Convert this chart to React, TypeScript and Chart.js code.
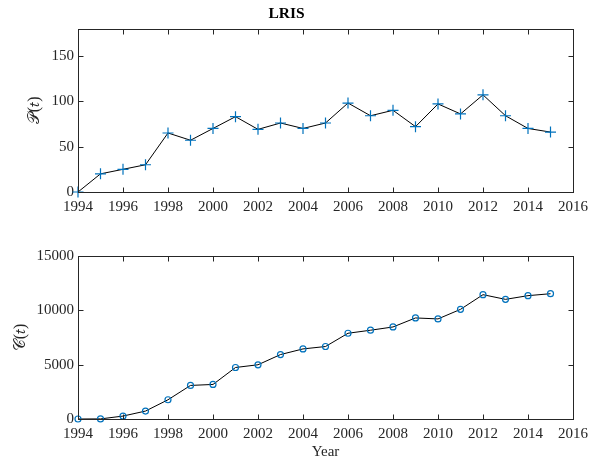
import React, { useEffect, useRef } from "react";
import { Chart, registerables } from "chart.js";

Chart.register(...registerables);

const years = [1994, 1995, 1996, 1997, 1998, 1999, 2000, 2001, 2002, 2003, 2004, 2005, 2006, 2007, 2008, 2009, 2010, 2011, 2012, 2013, 2014, 2015];
const publications = [0, 20, 25, 30, 65, 57, 70, 83, 69, 76, 70, 76, 98, 84, 90, 72, 97, 86, 107, 84, 70, 66];
const citations = [0, 10, 270, 730, 1770, 3090, 3180, 4740, 4990, 5930, 6450, 6670, 7890, 8170, 8470, 9300, 9210, 10090, 11440, 11010, 11350, 11530];
const xTicks = [1994, 1996, 1998, 2000, 2002, 2004, 2006, 2008, 2010, 2012, 2014, 2016];
const topYTicks = [0, 50, 100, 150];
const bottomYTicks = [0, 5000, 10000, 15000];

const AXIS = "#262626";
const BLUE = "#0072BD";
const SERIF = "'Liberation Serif', 'Times New Roman', serif";

const boxPlugin = {
  id: "matlabBox",
  afterDraw(chart: any) {
    const { ctx, chartArea: a, scales } = chart;
    ctx.save();
    ctx.strokeStyle = AXIS;
    ctx.lineWidth = 1;
    const L = Math.round(a.left) + 0.5, R = Math.round(a.right) + 0.5;
    const T = Math.round(a.top) + 0.5, B = Math.round(a.bottom) + 0.5;
    ctx.strokeRect(L, T, R - L, B - T);
    const len = 5;
    ctx.beginPath();
    for (const t of scales.x.ticks) {
      const px = Math.round(scales.x.getPixelForValue(t.value)) + 0.5;
      ctx.moveTo(px, B); ctx.lineTo(px, B - len);
      ctx.moveTo(px, T); ctx.lineTo(px, T + len);
    }
    for (const t of scales.y.ticks) {
      const py = Math.round(scales.y.getPixelForValue(t.value)) + 0.5;
      ctx.moveTo(L, py); ctx.lineTo(L + len, py);
      ctx.moveTo(R, py); ctx.lineTo(R - len, py);
    }
    ctx.stroke();
    ctx.restore();
  },
};

function makeOptions(opts: {
  yMax: number;
  yTicks: number[];
  yLabel: string;
  yLabelPad: number;
  title?: string;
  xLabel?: string;
  height: number;
  areaBottom: number;
  padTop: number;
}) {
  const tickFont = { family: SERIF, size: 15 };
  return {
    responsive: false,
    animation: false,
    layout: { padding: { top: opts.padTop, right: 24, left: 0, bottom: 0 } },
    plugins: {
      legend: { display: false },
      tooltip: { enabled: false },
      title: opts.title
        ? {
            display: true,
            text: opts.title,
            color: "#000",
            font: { family: SERIF, size: 15.5, weight: "bold" },
            padding: { top: 5, bottom: 5 },
          }
        : { display: false },
    },
    scales: {
      x: {
        type: "linear",
        min: 1994,
        max: 2016,
        grid: { display: false, drawTicks: false },
        border: { display: false },
        afterBuildTicks: (s: any) => {
          s.ticks = xTicks.map((v) => ({ value: v }));
        },
        afterFit: (s: any) => {
          s.height = opts.height - opts.areaBottom;
        },
        ticks: {
          color: AXIS,
          font: tickFont,
          padding: 6,
          maxRotation: 0,
          autoSkip: false,
          callback: (v: any) => String(v),
        },
        title: opts.xLabel
          ? { display: true, text: opts.xLabel, color: AXIS, font: { family: SERIF, size: 15 }, padding: { top: 0, bottom: 2 } }
          : { display: false },
      },
      y: {
        type: "linear",
        min: 0,
        max: opts.yMax,
        grid: { display: false, drawTicks: false },
        border: { display: false },
        afterBuildTicks: (s: any) => {
          s.ticks = opts.yTicks.map((v) => ({ value: v }));
        },
        afterFit: (s: any) => {
          s.width = 78;
        },
        ticks: {
          color: AXIS,
          font: tickFont,
          padding: 4,
          callback: (v: any) => String(v),
        },
        title: {
          display: true,
          text: opts.yLabel,
          color: AXIS,
          font: { family: SERIF, size: 16 },
          padding: { top: opts.yLabelPad, bottom: 0 },
        },
      },
    },
  };
}

function PlotCanvas(props: { top: number; height: number; build: (c: HTMLCanvasElement) => Chart }) {
  const ref = useRef<HTMLCanvasElement | null>(null);
  useEffect(() => {
    if (!ref.current) return;
    const chart = props.build(ref.current);
    return () => chart.destroy();
  }, []);
  return (
    <canvas
      ref={ref}
      width={597}
      height={props.height}
      style={{ position: "absolute", left: 0, top: props.top, width: 597, height: props.height }}
    />
  );
}

export default function App() {
  const topH = 232;
  const botH = 231;
  return (
    <div style={{ position: "fixed", left: 0, top: 0, width: 597, height: 463, background: "#fff" }}>
      <PlotCanvas
        top={0}
        height={topH}
        build={(c) =>
          new Chart(c, {
            type: "line",
            data: {
              datasets: [
                {
                  data: years.map((y, i) => ({ x: y, y: publications[i] })),
                  borderColor: "#000",
                  borderWidth: 1,
                  pointStyle: "cross",
                  pointRadius: 5.5,
                  pointBorderColor: BLUE,
                  pointBorderWidth: 1.2,
                  pointBackgroundColor: BLUE,
                  tension: 0,
                  clip: false,
                },
              ],
            },
            options: makeOptions({
              yMax: 180,
              yTicks: topYTicks,
              yLabel: "𝒫(𝑡)",
              yLabelPad: 25,
              title: "LRIS",
              height: topH,
              areaBottom: 192,
              padTop: 0,
            }) as any,
            plugins: [boxPlugin],
          })
        }
      />
      <PlotCanvas
        top={topH}
        height={botH}
        build={(c) =>
          new Chart(c, {
            type: "line",
            data: {
              datasets: [
                {
                  data: years.map((y, i) => ({ x: y, y: citations[i] })),
                  borderColor: "#000",
                  borderWidth: 1,
                  pointStyle: "circle",
                  pointRadius: 3,
                  pointBorderColor: BLUE,
                  pointBorderWidth: 1.2,
                  pointBackgroundColor: "rgba(0,0,0,0)",
                  tension: 0,
                  clip: false,
                },
              ],
            },
            options: makeOptions({
              yMax: 15000,
              yTicks: bottomYTicks,
              yLabel: "𝒞(𝑡)",
              yLabelPad: 11,
              xLabel: "Year",
              height: botH,
              areaBottom: 419 - topH,
              padTop: 24,
            }) as any,
            plugins: [boxPlugin],
          })
        }
      />
    </div>
  );
}
